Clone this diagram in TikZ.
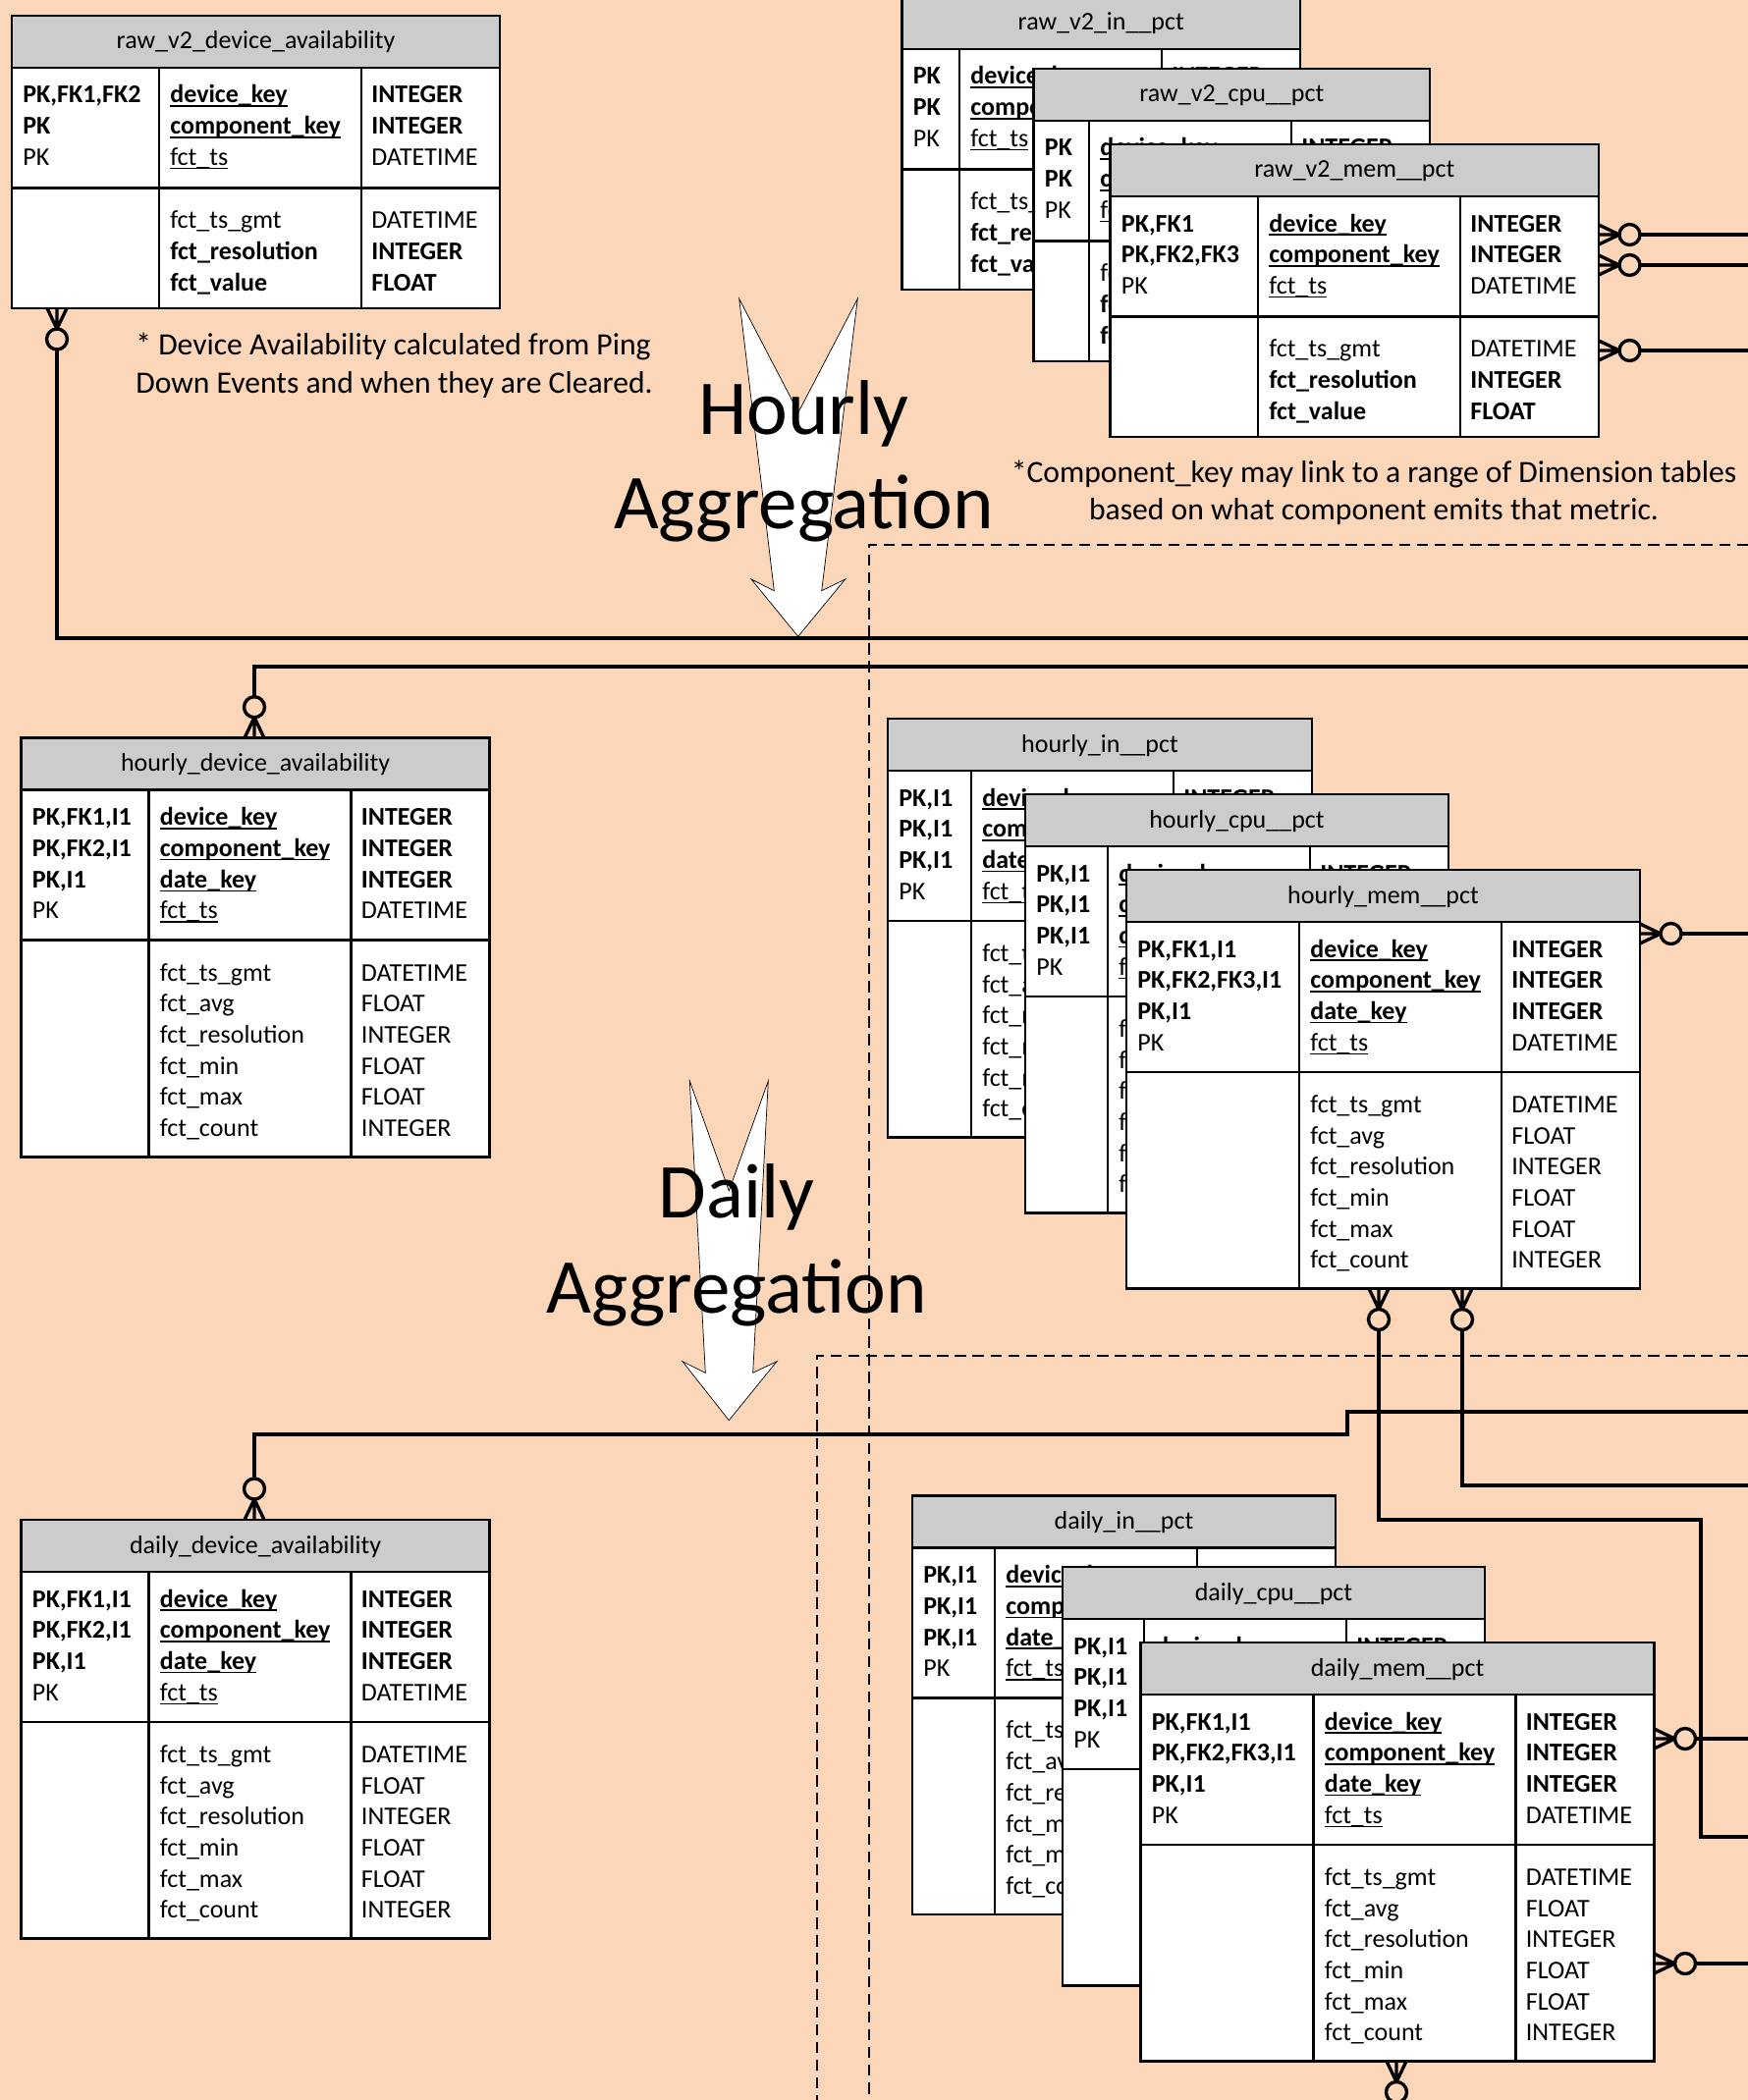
\documentclass[tikz,border=0pt]{standalone}
\usepackage{fontspec}
\setmainfont{Carlito}
\usetikzlibrary{calc}

\definecolor{bgpeach}{RGB}{251,214,184}
\definecolor{hdrgrey}{RGB}{204,204,204}

\newcommand{\tabfont}{\fontsize{14.8}{18}\selectfont}
\newcommand{\notefont}{\fontsize{18}{22}\selectfont}
\newcommand{\bigfont}{\fontsize{45}{55}\selectfont}
\newcommand{\ulkey}[1]{\setbox0\hbox{#1}\rlap{\rule[-2.3pt]{\wd0}{0.9pt}}\box0}

\tikzset{
  hdr/.style={draw, fill=hdrgrey, line width=1.5pt, inner sep=0pt, outer sep=0pt,
    anchor=north west, minimum height=53*0.02cm},
  tcell/.style={draw, fill=white, line width=1.5pt, inner sep=0pt, outer sep=0pt, anchor=north west},
  ttitle/.style={anchor=base, inner sep=0pt, font=\tabfont},
  txt/.style={anchor=base west, inner sep=0pt, font=\tabfont},
  rel/.style={line width=1.9pt},
  dashline/.style={line width=1.6pt, dash pattern=on 6.5pt off 3.8pt},
  aggarrow/.style={draw=black, fill=white, line width=0.4pt},
  crowfoot/.pic={
    \draw[rel] (0,-10) -- (21,0) -- (0,10) (0,0) -- (21,0);
    \draw[rel, fill=bgpeach] (31.5,0) circle[radius=5.97pt];
    \coordinate (-end) at (42,0);
  }
}

% raw table: name, left, top, key column width, title, key flags
\newcommand{\rawtable}[6]{%
  \node[hdr, minimum width={(#4+347)*0.02cm}] (#1) at (#2,#3) {};
  \node[ttitle] (#1-t) at ($(#1.north)+(0,34)$) {#5};
  \node[tcell, minimum width={#4*0.02cm}, minimum height={122.5*0.02cm}] (#1-k1) at (#1.south west) {};
  \node[tcell, minimum width={206*0.02cm}, minimum height={122.5*0.02cm}] (#1-k2) at (#1-k1.north east) {};
  \node[tcell, minimum width={141*0.02cm}, minimum height={122.5*0.02cm}] (#1-k3) at (#1-k2.north east) {};
  \node[tcell, minimum width={#4*0.02cm}, minimum height={122.5*0.02cm}] (#1-n1) at (#1-k1.south west) {};
  \node[tcell, minimum width={206*0.02cm}, minimum height={122.5*0.02cm}] (#1-n2) at (#1-n1.north east) {};
  \node[tcell, minimum width={141*0.02cm}, minimum height={122.5*0.02cm}] (#1-n3) at (#1-n2.north east) {};
  \foreach \t [count=\i] in {#6}
    \node[txt] (#1-a\i) at ($(#1-k1.north west)+(11,{36+(\i-1)*31.7})$) {\t};
  \foreach \t [count=\i] in {{\ulkey{\textbf{device\_key}}},{\ulkey{\textbf{component\_key}}},{\ulkey{fct\_ts}}}
    \node[txt] (#1-b\i) at ($(#1-k2.north west)+(11,{36+(\i-1)*31.7})$) {\t};
  \foreach \t [count=\i] in {{\textbf{INTEGER}},{\textbf{INTEGER}},DATETIME}
    \node[txt] (#1-c\i) at ($(#1-k3.north west)+(10,{36+(\i-1)*31.7})$) {\t};
  \foreach \t [count=\i] in {fct\_ts\_gmt,{\textbf{fct\_resolution}},{\textbf{fct\_value}}}
    \node[txt] (#1-d\i) at ($(#1-n2.north west)+(11,{41.3+(\i-1)*31.7})$) {\t};
  \foreach \t [count=\i] in {DATETIME,{\textbf{INTEGER}},{\textbf{FLOAT}}}
    \node[txt] (#1-e\i) at ($(#1-n3.north west)+(10,{41.3+(\i-1)*31.7})$) {\t};
}

% aggregated table: name, left, top, key column width, title, key flags
\newcommand{\aggtable}[6]{%
  \node[hdr, minimum width={(#4+347)*0.02cm}] (#1) at (#2,#3) {};
  \node[ttitle] (#1-t) at ($(#1.north)+(0,34)$) {#5};
  \node[tcell, minimum width={#4*0.02cm}, minimum height={153*0.02cm}] (#1-k1) at (#1.south west) {};
  \node[tcell, minimum width={206*0.02cm}, minimum height={153*0.02cm}] (#1-k2) at (#1-k1.north east) {};
  \node[tcell, minimum width={141*0.02cm}, minimum height={153*0.02cm}] (#1-k3) at (#1-k2.north east) {};
  \node[tcell, minimum width={#4*0.02cm}, minimum height={220.5*0.02cm}] (#1-n1) at (#1-k1.south west) {};
  \node[tcell, minimum width={206*0.02cm}, minimum height={220.5*0.02cm}] (#1-n2) at (#1-n1.north east) {};
  \node[tcell, minimum width={141*0.02cm}, minimum height={220.5*0.02cm}] (#1-n3) at (#1-n2.north east) {};
  \foreach \t [count=\i] in {#6}
    \node[txt] (#1-a\i) at ($(#1-k1.north west)+(11,{36+(\i-1)*31.7})$) {\t};
  \foreach \t [count=\i] in {{\ulkey{\textbf{device\_key}}},{\ulkey{\textbf{component\_key}}},{\ulkey{\textbf{date\_key}}},{\ulkey{fct\_ts}}}
    \node[txt] (#1-b\i) at ($(#1-k2.north west)+(11,{36+(\i-1)*31.7})$) {\t};
  \foreach \t [count=\i] in {{\textbf{INTEGER}},{\textbf{INTEGER}},{\textbf{INTEGER}},DATETIME}
    \node[txt] (#1-c\i) at ($(#1-k3.north west)+(10,{36+(\i-1)*31.7})$) {\t};
  \foreach \t [count=\i] in {fct\_ts\_gmt,fct\_avg,fct\_resolution,fct\_min,fct\_max,fct\_count}
    \node[txt] (#1-d\i) at ($(#1-n2.north west)+(11,{41.3+(\i-1)*31.7})$) {\t};
  \foreach \t [count=\i] in {DATETIME,FLOAT,INTEGER,FLOAT,FLOAT,INTEGER}
    \node[txt] (#1-e\i) at ($(#1-n3.north west)+(10,{41.3+(\i-1)*31.7})$) {\t};
}

\begin{document}
\begin{tikzpicture}[x=0.02cm, y=-0.02cm]
  \useasboundingbox (0,0) rectangle (1780,2139);
  \clip (0,0) rectangle (1780,2139);
  \fill[bgpeach] (0,0) rectangle (1780,2139);

  \rawtable{rawdev}{12}{16}{150}{raw\_v2\_device\_availability}{{\textbf{PK,FK1,FK2}},{\textbf{PK}},PK}
  \rawtable{rawin}{918.5}{-3}{58.5}{raw\_v2\_in\_\_pct}{{\textbf{PK}},{\textbf{PK}},PK}
  \rawtable{rawcpu}{1052.6}{70}{56.4}{raw\_v2\_cpu\_\_pct}{{\textbf{PK}},{\textbf{PK}},PK}
  \rawtable{rawmem}{1130.6}{147}{150.4}{raw\_v2\_mem\_\_pct}{{\textbf{PK,FK1}},{\textbf{PK,FK2,FK3}},PK}

  \aggtable{hrdev}{21.6}{751.7}{130}{hourly\_device\_availability}{{\textbf{PK,FK1,I1}},{\textbf{PK,FK2,I1}},{\textbf{PK,I1}},PK}
  \aggtable{hrin}{904}{732}{85}{hourly\_in\_\_pct}{{\textbf{PK,I1}},{\textbf{PK,I1}},{\textbf{PK,I1}},PK}
  \aggtable{hrcpu}{1044}{809}{84}{hourly\_cpu\_\_pct}{{\textbf{PK,I1}},{\textbf{PK,I1}},{\textbf{PK,I1}},PK}
  \aggtable{hrmem}{1147}{886}{176}{hourly\_mem\_\_pct}{{\textbf{PK,FK1,I1}},{\textbf{PK,FK2,FK3,I1}},{\textbf{PK,I1}},PK}

  \aggtable{dydev}{21.6}{1548}{130}{daily\_device\_availability}{{\textbf{PK,FK1,I1}},{\textbf{PK,FK2,I1}},{\textbf{PK,I1}},PK}
  \aggtable{dyin}{929}{1523.6}{84}{daily\_in\_\_pct}{{\textbf{PK,I1}},{\textbf{PK,I1}},{\textbf{PK,I1}},PK}
  \aggtable{dycpu}{1082}{1596}{83}{daily\_cpu\_\_pct}{{\textbf{PK,I1}},{\textbf{PK,I1}},{\textbf{PK,I1}},PK}
  \aggtable{dymem}{1161.5}{1673}{176}{daily\_mem\_\_pct}{{\textbf{PK,FK1,I1}},{\textbf{PK,FK2,FK3,I1}},{\textbf{PK,I1}},PK}

  \pic[rotate=-90] (cfa) at ($(rawdev-n1.south west)+(46,0)$) {crowfoot};
  \pic[rotate=90] (cfb) at ($(hrdev.north west)+(237.4,0)$) {crowfoot};
  \pic (cfc) at ($(rawmem.north east)+(0,92)$) {crowfoot};
  \pic (cfd) at ($(rawmem.north east)+(0,123)$) {crowfoot};
  \pic (cfe) at ($(rawmem.north east)+(0,210)$) {crowfoot};
  \pic (cff) at ($(hrmem.north east)+(0,65)$) {crowfoot};
  \pic[rotate=-90] (cfg) at ($(hrmem-n1.south west)+(257,0)$) {crowfoot};
  \pic[rotate=-90] (cfh) at ($(hrmem-n1.south west)+(342,0)$) {crowfoot};
  \pic[rotate=90] (cfi) at ($(dydev.north west)+(237.4,0)$) {crowfoot};
  \pic (cfj) at ($(dymem.north east)+(0,98)$) {crowfoot};
  \pic (cfk) at ($(dymem.north east)+(0,327)$) {crowfoot};
  \pic[rotate=-90] (cfl) at ($(dymem-n1.south west)+(260.5,0)$) {crowfoot};

  \coordinate (ra) at (1780,650);
  \coordinate (rb) at (1780,679);
  \coordinate (rc) at (1780,239);
  \coordinate (rd) at (1780,270);
  \coordinate (re) at (1780,357);
  \coordinate (rf) at (1780,951);
  \coordinate (bend1) at (1732,1548);
  \coordinate (rg) at (1780,1871);
  \coordinate (rh) at (1780,1513);
  \coordinate (bend2) at (1372,1461);
  \coordinate (ri) at (1780,1438);
  \coordinate (rj) at (1780,1771);
  \coordinate (rk) at (1780,2000);
  \coordinate (rl) at (1422,2160);

  \draw[rel] (cfa-end) |- (ra);
  \draw[rel] (cfb-end) |- (rb);
  \draw[rel] (cfc-end) -- (rc);
  \draw[rel] (cfd-end) -- (rd);
  \draw[rel] (cfe-end) -- (re);
  \draw[rel] (cff-end) -- (rf);
  \draw[rel] (cfg-end) |- (bend1) |- (rg);
  \draw[rel] (cfh-end) |- (rh);
  \draw[rel] (cfi-end) |- (bend2) |- (ri);
  \draw[rel] (cfj-end) -- (rj);
  \draw[rel] (cfk-end) -- (rk);
  \draw[rel] (cfl-end) -- (rl);

  \coordinate (dsa) at (1780,555);
  \coordinate (dsb) at (885,2139);
  \coordinate (dsc) at (1780,1381);
  \coordinate (dsd) at (832,2139);
  \draw[dashline] (dsa) -| (dsb);
  \draw[dashline] (dsc) -| (dsd);

  \draw[aggarrow] (752.7,304.3) -- (813,420) -- (873.3,304.3) -- (836.7,601.7) -- (860.7,590)
    -- (812.7,648.3) -- (765,590) -- (788.3,601.7) -- cycle;
  \draw[aggarrow] (702.3,1101) -- (742.3,1213) -- (782.3,1101) -- (766.7,1398.3) -- (791,1386.7)
    -- (742.3,1446.7) -- (695,1386.7) -- (718.3,1398.3) -- cycle;

  \begin{scope}[every node/.style={anchor=base, inner sep=0pt, font=\bigfont}]
    \node (hrlbl) at (818.5,442) {Hourly};
    \node (hrlbl2) at (818.5,538) {Aggregation};
    \node (dylbl) at (750,1240) {Daily};
    \node (dylbl2) at (750,1337) {Aggregation};
  \end{scope}
  \begin{scope}[every node/.style={inner sep=0pt, font=\notefont}]
    \node[anchor=base west] (devnote1) at (138,361.7) {* Device Availability calculated from Ping};
    \node[anchor=base west] (devnote2) at (138,400) {Down Events and when they are Cleared.};
    \node[anchor=base] (cmpnote1) at (1399,491.7) {*Component\_key may link to a range of Dimension tables};
    \node[anchor=base] (cmpnote2) at (1399,529.3) {based on what component emits that metric.};
  \end{scope}
\end{tikzpicture}
\end{document}
